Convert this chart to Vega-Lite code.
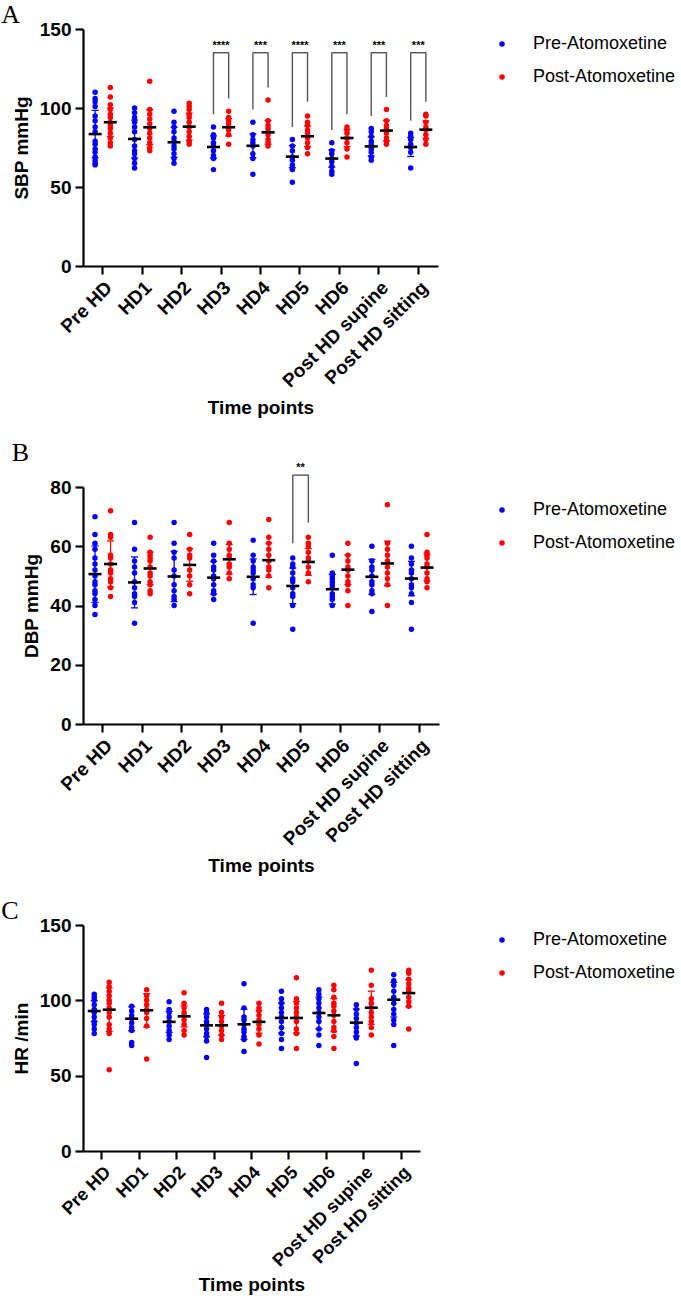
{
  "$schema": "https://vega.github.io/schema/vega-lite/v6.json",
  "background": "white",
  "padding": {"left": 1, "top": 2, "right": 0, "bottom": 0},
  "config": {
    "view": {"stroke": null},
    "font": "Liberation Sans",
    "axis": {
      "grid": false,
      "domainColor": "black", "domainWidth": 2.2,
      "tickColor": "black", "tickWidth": 2.2, "tickSize": 8,
      "labelColor": "black", "labelFont": "Liberation Sans", "labelFontWeight": "bold", "labelFontSize": 19,
      "titleColor": "black", "titleFont": "Liberation Sans", "titleFontWeight": "bold", "titleFontSize": 19
    },
    "axisX": {"labelAngle": -45, "labelFontSize": 19, "labelPadding": 4, "titlePadding": 8},
    "axisY": {"labelPadding": 4, "titlePadding": 8},
    "tick": {"opacity": 1},
    "title": {"font": "Liberation Serif", "fontWeight": "normal", "fontSize": 26, "anchor": "start", "frame": "bounds", "color": "black"},
    "legend": {
      "symbolType": "circle", "symbolSize": 30, "symbolStrokeWidth": 0,
      "labelFont": "Liberation Sans", "labelFontSize": 18, "labelColor": "black",
      "labelOffset": 22, "rowPadding": 15, "padding": 6
    }
  },
  "datasets": {
    "sbp": [
      {"time": "Pre HD", "group": "Pre-Atomoxetine", "value": 110}, {"time": "Pre HD", "group": "Pre-Atomoxetine", "value": 106}, {"time": "Pre HD", "group": "Pre-Atomoxetine", "value": 104}, {"time": "Pre HD", "group": "Pre-Atomoxetine", "value": 101}, {"time": "Pre HD", "group": "Pre-Atomoxetine", "value": 95}, {"time": "Pre HD", "group": "Pre-Atomoxetine", "value": 92}, {"time": "Pre HD", "group": "Pre-Atomoxetine", "value": 88}, {"time": "Pre HD", "group": "Pre-Atomoxetine", "value": 85}, {"time": "Pre HD", "group": "Pre-Atomoxetine", "value": 79}, {"time": "Pre HD", "group": "Pre-Atomoxetine", "value": 77}, {"time": "Pre HD", "group": "Pre-Atomoxetine", "value": 74}, {"time": "Pre HD", "group": "Pre-Atomoxetine", "value": 72}, {"time": "Pre HD", "group": "Pre-Atomoxetine", "value": 69}, {"time": "Pre HD", "group": "Pre-Atomoxetine", "value": 67}, {"time": "Pre HD", "group": "Pre-Atomoxetine", "value": 65}, {"time": "Pre HD", "group": "Pre-Atomoxetine", "value": 64},
      {"time": "Pre HD", "group": "Post-Atomoxetine", "value": 113}, {"time": "Pre HD", "group": "Post-Atomoxetine", "value": 107}, {"time": "Pre HD", "group": "Post-Atomoxetine", "value": 102}, {"time": "Pre HD", "group": "Post-Atomoxetine", "value": 99}, {"time": "Pre HD", "group": "Post-Atomoxetine", "value": 96}, {"time": "Pre HD", "group": "Post-Atomoxetine", "value": 94}, {"time": "Pre HD", "group": "Post-Atomoxetine", "value": 91}, {"time": "Pre HD", "group": "Post-Atomoxetine", "value": 89}, {"time": "Pre HD", "group": "Post-Atomoxetine", "value": 87}, {"time": "Pre HD", "group": "Post-Atomoxetine", "value": 84}, {"time": "Pre HD", "group": "Post-Atomoxetine", "value": 81}, {"time": "Pre HD", "group": "Post-Atomoxetine", "value": 78}, {"time": "Pre HD", "group": "Post-Atomoxetine", "value": 76},
      {"time": "HD1", "group": "Pre-Atomoxetine", "value": 100}, {"time": "HD1", "group": "Pre-Atomoxetine", "value": 97}, {"time": "HD1", "group": "Pre-Atomoxetine", "value": 94}, {"time": "HD1", "group": "Pre-Atomoxetine", "value": 91}, {"time": "HD1", "group": "Pre-Atomoxetine", "value": 88}, {"time": "HD1", "group": "Pre-Atomoxetine", "value": 85}, {"time": "HD1", "group": "Pre-Atomoxetine", "value": 80}, {"time": "HD1", "group": "Pre-Atomoxetine", "value": 76}, {"time": "HD1", "group": "Pre-Atomoxetine", "value": 73}, {"time": "HD1", "group": "Pre-Atomoxetine", "value": 71}, {"time": "HD1", "group": "Pre-Atomoxetine", "value": 68}, {"time": "HD1", "group": "Pre-Atomoxetine", "value": 65}, {"time": "HD1", "group": "Pre-Atomoxetine", "value": 62},
      {"time": "HD1", "group": "Post-Atomoxetine", "value": 117}, {"time": "HD1", "group": "Post-Atomoxetine", "value": 99}, {"time": "HD1", "group": "Post-Atomoxetine", "value": 96}, {"time": "HD1", "group": "Post-Atomoxetine", "value": 93}, {"time": "HD1", "group": "Post-Atomoxetine", "value": 90}, {"time": "HD1", "group": "Post-Atomoxetine", "value": 87}, {"time": "HD1", "group": "Post-Atomoxetine", "value": 84}, {"time": "HD1", "group": "Post-Atomoxetine", "value": 81}, {"time": "HD1", "group": "Post-Atomoxetine", "value": 78}, {"time": "HD1", "group": "Post-Atomoxetine", "value": 75}, {"time": "HD1", "group": "Post-Atomoxetine", "value": 73},
      {"time": "HD2", "group": "Pre-Atomoxetine", "value": 98}, {"time": "HD2", "group": "Pre-Atomoxetine", "value": 91}, {"time": "HD2", "group": "Pre-Atomoxetine", "value": 88}, {"time": "HD2", "group": "Pre-Atomoxetine", "value": 85}, {"time": "HD2", "group": "Pre-Atomoxetine", "value": 81}, {"time": "HD2", "group": "Pre-Atomoxetine", "value": 79}, {"time": "HD2", "group": "Pre-Atomoxetine", "value": 76}, {"time": "HD2", "group": "Pre-Atomoxetine", "value": 74}, {"time": "HD2", "group": "Pre-Atomoxetine", "value": 71}, {"time": "HD2", "group": "Pre-Atomoxetine", "value": 68}, {"time": "HD2", "group": "Pre-Atomoxetine", "value": 65},
      {"time": "HD2", "group": "Post-Atomoxetine", "value": 103}, {"time": "HD2", "group": "Post-Atomoxetine", "value": 101}, {"time": "HD2", "group": "Post-Atomoxetine", "value": 99}, {"time": "HD2", "group": "Post-Atomoxetine", "value": 96}, {"time": "HD2", "group": "Post-Atomoxetine", "value": 94}, {"time": "HD2", "group": "Post-Atomoxetine", "value": 91}, {"time": "HD2", "group": "Post-Atomoxetine", "value": 88}, {"time": "HD2", "group": "Post-Atomoxetine", "value": 85}, {"time": "HD2", "group": "Post-Atomoxetine", "value": 82}, {"time": "HD2", "group": "Post-Atomoxetine", "value": 79}, {"time": "HD2", "group": "Post-Atomoxetine", "value": 77},
      {"time": "HD3", "group": "Pre-Atomoxetine", "value": 88}, {"time": "HD3", "group": "Pre-Atomoxetine", "value": 83}, {"time": "HD3", "group": "Pre-Atomoxetine", "value": 81}, {"time": "HD3", "group": "Pre-Atomoxetine", "value": 78}, {"time": "HD3", "group": "Pre-Atomoxetine", "value": 76}, {"time": "HD3", "group": "Pre-Atomoxetine", "value": 73}, {"time": "HD3", "group": "Pre-Atomoxetine", "value": 70}, {"time": "HD3", "group": "Pre-Atomoxetine", "value": 68}, {"time": "HD3", "group": "Pre-Atomoxetine", "value": 61},
      {"time": "HD3", "group": "Post-Atomoxetine", "value": 98}, {"time": "HD3", "group": "Post-Atomoxetine", "value": 94}, {"time": "HD3", "group": "Post-Atomoxetine", "value": 92}, {"time": "HD3", "group": "Post-Atomoxetine", "value": 90}, {"time": "HD3", "group": "Post-Atomoxetine", "value": 88}, {"time": "HD3", "group": "Post-Atomoxetine", "value": 86}, {"time": "HD3", "group": "Post-Atomoxetine", "value": 83}, {"time": "HD3", "group": "Post-Atomoxetine", "value": 77},
      {"time": "HD4", "group": "Pre-Atomoxetine", "value": 91}, {"time": "HD4", "group": "Pre-Atomoxetine", "value": 83}, {"time": "HD4", "group": "Pre-Atomoxetine", "value": 80}, {"time": "HD4", "group": "Pre-Atomoxetine", "value": 78}, {"time": "HD4", "group": "Pre-Atomoxetine", "value": 76}, {"time": "HD4", "group": "Pre-Atomoxetine", "value": 71}, {"time": "HD4", "group": "Pre-Atomoxetine", "value": 68}, {"time": "HD4", "group": "Pre-Atomoxetine", "value": 58},
      {"time": "HD4", "group": "Post-Atomoxetine", "value": 105}, {"time": "HD4", "group": "Post-Atomoxetine", "value": 92}, {"time": "HD4", "group": "Post-Atomoxetine", "value": 89}, {"time": "HD4", "group": "Post-Atomoxetine", "value": 87}, {"time": "HD4", "group": "Post-Atomoxetine", "value": 85}, {"time": "HD4", "group": "Post-Atomoxetine", "value": 83}, {"time": "HD4", "group": "Post-Atomoxetine", "value": 80}, {"time": "HD4", "group": "Post-Atomoxetine", "value": 78}, {"time": "HD4", "group": "Post-Atomoxetine", "value": 76},
      {"time": "HD5", "group": "Pre-Atomoxetine", "value": 80}, {"time": "HD5", "group": "Pre-Atomoxetine", "value": 76}, {"time": "HD5", "group": "Pre-Atomoxetine", "value": 73}, {"time": "HD5", "group": "Pre-Atomoxetine", "value": 69}, {"time": "HD5", "group": "Pre-Atomoxetine", "value": 67}, {"time": "HD5", "group": "Pre-Atomoxetine", "value": 64}, {"time": "HD5", "group": "Pre-Atomoxetine", "value": 61}, {"time": "HD5", "group": "Pre-Atomoxetine", "value": 53},
      {"time": "HD5", "group": "Post-Atomoxetine", "value": 95}, {"time": "HD5", "group": "Post-Atomoxetine", "value": 91}, {"time": "HD5", "group": "Post-Atomoxetine", "value": 89}, {"time": "HD5", "group": "Post-Atomoxetine", "value": 86}, {"time": "HD5", "group": "Post-Atomoxetine", "value": 84}, {"time": "HD5", "group": "Post-Atomoxetine", "value": 81}, {"time": "HD5", "group": "Post-Atomoxetine", "value": 78}, {"time": "HD5", "group": "Post-Atomoxetine", "value": 75}, {"time": "HD5", "group": "Post-Atomoxetine", "value": 71},
      {"time": "HD6", "group": "Pre-Atomoxetine", "value": 78}, {"time": "HD6", "group": "Pre-Atomoxetine", "value": 73}, {"time": "HD6", "group": "Pre-Atomoxetine", "value": 71}, {"time": "HD6", "group": "Pre-Atomoxetine", "value": 68}, {"time": "HD6", "group": "Pre-Atomoxetine", "value": 66}, {"time": "HD6", "group": "Pre-Atomoxetine", "value": 63}, {"time": "HD6", "group": "Pre-Atomoxetine", "value": 60}, {"time": "HD6", "group": "Pre-Atomoxetine", "value": 58},
      {"time": "HD6", "group": "Post-Atomoxetine", "value": 88}, {"time": "HD6", "group": "Post-Atomoxetine", "value": 86}, {"time": "HD6", "group": "Post-Atomoxetine", "value": 84}, {"time": "HD6", "group": "Post-Atomoxetine", "value": 81}, {"time": "HD6", "group": "Post-Atomoxetine", "value": 78}, {"time": "HD6", "group": "Post-Atomoxetine", "value": 74}, {"time": "HD6", "group": "Post-Atomoxetine", "value": 69},
      {"time": "Post HD supine", "group": "Pre-Atomoxetine", "value": 87}, {"time": "Post HD supine", "group": "Pre-Atomoxetine", "value": 85}, {"time": "Post HD supine", "group": "Pre-Atomoxetine", "value": 82}, {"time": "Post HD supine", "group": "Pre-Atomoxetine", "value": 79}, {"time": "Post HD supine", "group": "Pre-Atomoxetine", "value": 77}, {"time": "Post HD supine", "group": "Pre-Atomoxetine", "value": 74}, {"time": "Post HD supine", "group": "Pre-Atomoxetine", "value": 72}, {"time": "Post HD supine", "group": "Pre-Atomoxetine", "value": 69}, {"time": "Post HD supine", "group": "Pre-Atomoxetine", "value": 67},
      {"time": "Post HD supine", "group": "Post-Atomoxetine", "value": 99}, {"time": "Post HD supine", "group": "Post-Atomoxetine", "value": 92}, {"time": "Post HD supine", "group": "Post-Atomoxetine", "value": 89}, {"time": "Post HD supine", "group": "Post-Atomoxetine", "value": 87}, {"time": "Post HD supine", "group": "Post-Atomoxetine", "value": 84}, {"time": "Post HD supine", "group": "Post-Atomoxetine", "value": 81}, {"time": "Post HD supine", "group": "Post-Atomoxetine", "value": 79}, {"time": "Post HD supine", "group": "Post-Atomoxetine", "value": 77},
      {"time": "Post HD sitting", "group": "Pre-Atomoxetine", "value": 84}, {"time": "Post HD sitting", "group": "Pre-Atomoxetine", "value": 82}, {"time": "Post HD sitting", "group": "Pre-Atomoxetine", "value": 80}, {"time": "Post HD sitting", "group": "Pre-Atomoxetine", "value": 77}, {"time": "Post HD sitting", "group": "Pre-Atomoxetine", "value": 75}, {"time": "Post HD sitting", "group": "Pre-Atomoxetine", "value": 72}, {"time": "Post HD sitting", "group": "Pre-Atomoxetine", "value": 62},
      {"time": "Post HD sitting", "group": "Post-Atomoxetine", "value": 96}, {"time": "Post HD sitting", "group": "Post-Atomoxetine", "value": 95}, {"time": "Post HD sitting", "group": "Post-Atomoxetine", "value": 91}, {"time": "Post HD sitting", "group": "Post-Atomoxetine", "value": 88}, {"time": "Post HD sitting", "group": "Post-Atomoxetine", "value": 86}, {"time": "Post HD sitting", "group": "Post-Atomoxetine", "value": 83}, {"time": "Post HD sitting", "group": "Post-Atomoxetine", "value": 80}, {"time": "Post HD sitting", "group": "Post-Atomoxetine", "value": 77}
    ],
    "sbp_stats": [
      {"time": "Pre HD", "group": "Pre-Atomoxetine", "mean": 83.5, "lo": 68.5, "hi": 98.5}, {"time": "Pre HD", "group": "Post-Atomoxetine", "mean": 91, "lo": 82, "hi": 100},
      {"time": "HD1", "group": "Pre-Atomoxetine", "mean": 80.4, "lo": 68.4, "hi": 92.4}, {"time": "HD1", "group": "Post-Atomoxetine", "mean": 87.8, "lo": 76.8, "hi": 98.8},
      {"time": "HD2", "group": "Pre-Atomoxetine", "mean": 78.3, "lo": 68.8, "hi": 87.8}, {"time": "HD2", "group": "Post-Atomoxetine", "mean": 88.2, "lo": 79.7, "hi": 96.7},
      {"time": "HD3", "group": "Pre-Atomoxetine", "mean": 75.3, "lo": 68.3, "hi": 82.3}, {"time": "HD3", "group": "Post-Atomoxetine", "mean": 87.8, "lo": 82.3, "hi": 93.3},
      {"time": "HD4", "group": "Pre-Atomoxetine", "mean": 76.1, "lo": 68.6, "hi": 83.6}, {"time": "HD4", "group": "Post-Atomoxetine", "mean": 84.6, "lo": 77.1, "hi": 92.1},
      {"time": "HD5", "group": "Pre-Atomoxetine", "mean": 69.2, "lo": 62.2, "hi": 76.2}, {"time": "HD5", "group": "Post-Atomoxetine", "mean": 82.1, "lo": 75.6, "hi": 88.6},
      {"time": "HD6", "group": "Pre-Atomoxetine", "mean": 68, "lo": 62.5, "hi": 73.5}, {"time": "HD6", "group": "Post-Atomoxetine", "mean": 81, "lo": 75.5, "hi": 86.5},
      {"time": "Post HD supine", "group": "Pre-Atomoxetine", "mean": 75.7, "lo": 69.7, "hi": 81.7}, {"time": "Post HD supine", "group": "Post-Atomoxetine", "mean": 85.7, "lo": 79.2, "hi": 92.2},
      {"time": "Post HD sitting", "group": "Pre-Atomoxetine", "mean": 75.3, "lo": 69.3, "hi": 81.3}, {"time": "Post HD sitting", "group": "Post-Atomoxetine", "mean": 86.3, "lo": 80.8, "hi": 91.8}
    ],
    "sbp_legs": [
      {"time": "HD3", "group": "Pre-Atomoxetine", "bottom": 96, "top": 135}, {"time": "HD3", "group": "Post-Atomoxetine", "bottom": 106, "top": 135},
      {"time": "HD4", "group": "Pre-Atomoxetine", "bottom": 99, "top": 135}, {"time": "HD4", "group": "Post-Atomoxetine", "bottom": 113, "top": 135},
      {"time": "HD5", "group": "Pre-Atomoxetine", "bottom": 88, "top": 135}, {"time": "HD5", "group": "Post-Atomoxetine", "bottom": 104, "top": 135},
      {"time": "HD6", "group": "Pre-Atomoxetine", "bottom": 86, "top": 135}, {"time": "HD6", "group": "Post-Atomoxetine", "bottom": 96, "top": 135},
      {"time": "Post HD supine", "group": "Pre-Atomoxetine", "bottom": 95, "top": 135}, {"time": "Post HD supine", "group": "Post-Atomoxetine", "bottom": 107, "top": 135},
      {"time": "Post HD sitting", "group": "Pre-Atomoxetine", "bottom": 92, "top": 135}, {"time": "Post HD sitting", "group": "Post-Atomoxetine", "bottom": 104, "top": 135}
    ],
    "sbp_bars": [
      {"time": "HD3", "top": 135, "stars": "****", "label_y": 137.5},
      {"time": "HD4", "top": 135, "stars": "***", "label_y": 137.5},
      {"time": "HD5", "top": 135, "stars": "****", "label_y": 137.5},
      {"time": "HD6", "top": 135, "stars": "***", "label_y": 137.5},
      {"time": "Post HD supine", "top": 135, "stars": "***", "label_y": 137.5},
      {"time": "Post HD sitting", "top": 135, "stars": "***", "label_y": 137.5}
    ],
    "dbp": [
      {"time": "Pre HD", "group": "Pre-Atomoxetine", "value": 70}, {"time": "Pre HD", "group": "Pre-Atomoxetine", "value": 64}, {"time": "Pre HD", "group": "Pre-Atomoxetine", "value": 61}, {"time": "Pre HD", "group": "Pre-Atomoxetine", "value": 59}, {"time": "Pre HD", "group": "Pre-Atomoxetine", "value": 56}, {"time": "Pre HD", "group": "Pre-Atomoxetine", "value": 54}, {"time": "Pre HD", "group": "Pre-Atomoxetine", "value": 52}, {"time": "Pre HD", "group": "Pre-Atomoxetine", "value": 50}, {"time": "Pre HD", "group": "Pre-Atomoxetine", "value": 48}, {"time": "Pre HD", "group": "Pre-Atomoxetine", "value": 47}, {"time": "Pre HD", "group": "Pre-Atomoxetine", "value": 45}, {"time": "Pre HD", "group": "Pre-Atomoxetine", "value": 44}, {"time": "Pre HD", "group": "Pre-Atomoxetine", "value": 42}, {"time": "Pre HD", "group": "Pre-Atomoxetine", "value": 40}, {"time": "Pre HD", "group": "Pre-Atomoxetine", "value": 37},
      {"time": "Pre HD", "group": "Post-Atomoxetine", "value": 72}, {"time": "Pre HD", "group": "Post-Atomoxetine", "value": 64}, {"time": "Pre HD", "group": "Post-Atomoxetine", "value": 63}, {"time": "Pre HD", "group": "Post-Atomoxetine", "value": 57}, {"time": "Pre HD", "group": "Post-Atomoxetine", "value": 56}, {"time": "Pre HD", "group": "Post-Atomoxetine", "value": 54}, {"time": "Pre HD", "group": "Post-Atomoxetine", "value": 52}, {"time": "Pre HD", "group": "Post-Atomoxetine", "value": 51}, {"time": "Pre HD", "group": "Post-Atomoxetine", "value": 49}, {"time": "Pre HD", "group": "Post-Atomoxetine", "value": 48}, {"time": "Pre HD", "group": "Post-Atomoxetine", "value": 46}, {"time": "Pre HD", "group": "Post-Atomoxetine", "value": 43},
      {"time": "HD1", "group": "Pre-Atomoxetine", "value": 68}, {"time": "HD1", "group": "Pre-Atomoxetine", "value": 59}, {"time": "HD1", "group": "Pre-Atomoxetine", "value": 55}, {"time": "HD1", "group": "Pre-Atomoxetine", "value": 53}, {"time": "HD1", "group": "Pre-Atomoxetine", "value": 51}, {"time": "HD1", "group": "Pre-Atomoxetine", "value": 48}, {"time": "HD1", "group": "Pre-Atomoxetine", "value": 46}, {"time": "HD1", "group": "Pre-Atomoxetine", "value": 44}, {"time": "HD1", "group": "Pre-Atomoxetine", "value": 43}, {"time": "HD1", "group": "Pre-Atomoxetine", "value": 41}, {"time": "HD1", "group": "Pre-Atomoxetine", "value": 34},
      {"time": "HD1", "group": "Post-Atomoxetine", "value": 63}, {"time": "HD1", "group": "Post-Atomoxetine", "value": 58}, {"time": "HD1", "group": "Post-Atomoxetine", "value": 57}, {"time": "HD1", "group": "Post-Atomoxetine", "value": 56}, {"time": "HD1", "group": "Post-Atomoxetine", "value": 55}, {"time": "HD1", "group": "Post-Atomoxetine", "value": 53}, {"time": "HD1", "group": "Post-Atomoxetine", "value": 51}, {"time": "HD1", "group": "Post-Atomoxetine", "value": 50}, {"time": "HD1", "group": "Post-Atomoxetine", "value": 48}, {"time": "HD1", "group": "Post-Atomoxetine", "value": 47}, {"time": "HD1", "group": "Post-Atomoxetine", "value": 45}, {"time": "HD1", "group": "Post-Atomoxetine", "value": 44},
      {"time": "HD2", "group": "Pre-Atomoxetine", "value": 68}, {"time": "HD2", "group": "Pre-Atomoxetine", "value": 61}, {"time": "HD2", "group": "Pre-Atomoxetine", "value": 58}, {"time": "HD2", "group": "Pre-Atomoxetine", "value": 56}, {"time": "HD2", "group": "Pre-Atomoxetine", "value": 52}, {"time": "HD2", "group": "Pre-Atomoxetine", "value": 50}, {"time": "HD2", "group": "Pre-Atomoxetine", "value": 47}, {"time": "HD2", "group": "Pre-Atomoxetine", "value": 45}, {"time": "HD2", "group": "Pre-Atomoxetine", "value": 43}, {"time": "HD2", "group": "Pre-Atomoxetine", "value": 42}, {"time": "HD2", "group": "Pre-Atomoxetine", "value": 40},
      {"time": "HD2", "group": "Post-Atomoxetine", "value": 64}, {"time": "HD2", "group": "Post-Atomoxetine", "value": 59}, {"time": "HD2", "group": "Post-Atomoxetine", "value": 57}, {"time": "HD2", "group": "Post-Atomoxetine", "value": 56}, {"time": "HD2", "group": "Post-Atomoxetine", "value": 52}, {"time": "HD2", "group": "Post-Atomoxetine", "value": 50}, {"time": "HD2", "group": "Post-Atomoxetine", "value": 47}, {"time": "HD2", "group": "Post-Atomoxetine", "value": 44},
      {"time": "HD3", "group": "Pre-Atomoxetine", "value": 61}, {"time": "HD3", "group": "Pre-Atomoxetine", "value": 57}, {"time": "HD3", "group": "Pre-Atomoxetine", "value": 55}, {"time": "HD3", "group": "Pre-Atomoxetine", "value": 53}, {"time": "HD3", "group": "Pre-Atomoxetine", "value": 52}, {"time": "HD3", "group": "Pre-Atomoxetine", "value": 50}, {"time": "HD3", "group": "Pre-Atomoxetine", "value": 49}, {"time": "HD3", "group": "Pre-Atomoxetine", "value": 47}, {"time": "HD3", "group": "Pre-Atomoxetine", "value": 45}, {"time": "HD3", "group": "Pre-Atomoxetine", "value": 44}, {"time": "HD3", "group": "Pre-Atomoxetine", "value": 42},
      {"time": "HD3", "group": "Post-Atomoxetine", "value": 68}, {"time": "HD3", "group": "Post-Atomoxetine", "value": 61}, {"time": "HD3", "group": "Post-Atomoxetine", "value": 59}, {"time": "HD3", "group": "Post-Atomoxetine", "value": 57}, {"time": "HD3", "group": "Post-Atomoxetine", "value": 56}, {"time": "HD3", "group": "Post-Atomoxetine", "value": 54}, {"time": "HD3", "group": "Post-Atomoxetine", "value": 53}, {"time": "HD3", "group": "Post-Atomoxetine", "value": 51}, {"time": "HD3", "group": "Post-Atomoxetine", "value": 49},
      {"time": "HD4", "group": "Pre-Atomoxetine", "value": 62}, {"time": "HD4", "group": "Pre-Atomoxetine", "value": 57}, {"time": "HD4", "group": "Pre-Atomoxetine", "value": 55}, {"time": "HD4", "group": "Pre-Atomoxetine", "value": 53}, {"time": "HD4", "group": "Pre-Atomoxetine", "value": 52}, {"time": "HD4", "group": "Pre-Atomoxetine", "value": 51}, {"time": "HD4", "group": "Pre-Atomoxetine", "value": 49}, {"time": "HD4", "group": "Pre-Atomoxetine", "value": 47}, {"time": "HD4", "group": "Pre-Atomoxetine", "value": 46}, {"time": "HD4", "group": "Pre-Atomoxetine", "value": 34},
      {"time": "HD4", "group": "Post-Atomoxetine", "value": 69}, {"time": "HD4", "group": "Post-Atomoxetine", "value": 63}, {"time": "HD4", "group": "Post-Atomoxetine", "value": 61}, {"time": "HD4", "group": "Post-Atomoxetine", "value": 59}, {"time": "HD4", "group": "Post-Atomoxetine", "value": 57}, {"time": "HD4", "group": "Post-Atomoxetine", "value": 55}, {"time": "HD4", "group": "Post-Atomoxetine", "value": 53}, {"time": "HD4", "group": "Post-Atomoxetine", "value": 52}, {"time": "HD4", "group": "Post-Atomoxetine", "value": 50}, {"time": "HD4", "group": "Post-Atomoxetine", "value": 46},
      {"time": "HD5", "group": "Pre-Atomoxetine", "value": 56}, {"time": "HD5", "group": "Pre-Atomoxetine", "value": 54}, {"time": "HD5", "group": "Pre-Atomoxetine", "value": 53}, {"time": "HD5", "group": "Pre-Atomoxetine", "value": 51}, {"time": "HD5", "group": "Pre-Atomoxetine", "value": 49}, {"time": "HD5", "group": "Pre-Atomoxetine", "value": 48}, {"time": "HD5", "group": "Pre-Atomoxetine", "value": 46}, {"time": "HD5", "group": "Pre-Atomoxetine", "value": 44}, {"time": "HD5", "group": "Pre-Atomoxetine", "value": 43}, {"time": "HD5", "group": "Pre-Atomoxetine", "value": 40}, {"time": "HD5", "group": "Pre-Atomoxetine", "value": 32},
      {"time": "HD5", "group": "Post-Atomoxetine", "value": 63}, {"time": "HD5", "group": "Post-Atomoxetine", "value": 61}, {"time": "HD5", "group": "Post-Atomoxetine", "value": 60}, {"time": "HD5", "group": "Post-Atomoxetine", "value": 58}, {"time": "HD5", "group": "Post-Atomoxetine", "value": 56}, {"time": "HD5", "group": "Post-Atomoxetine", "value": 55}, {"time": "HD5", "group": "Post-Atomoxetine", "value": 53}, {"time": "HD5", "group": "Post-Atomoxetine", "value": 51}, {"time": "HD5", "group": "Post-Atomoxetine", "value": 48},
      {"time": "HD6", "group": "Pre-Atomoxetine", "value": 57}, {"time": "HD6", "group": "Pre-Atomoxetine", "value": 51}, {"time": "HD6", "group": "Pre-Atomoxetine", "value": 50}, {"time": "HD6", "group": "Pre-Atomoxetine", "value": 49}, {"time": "HD6", "group": "Pre-Atomoxetine", "value": 48}, {"time": "HD6", "group": "Pre-Atomoxetine", "value": 47}, {"time": "HD6", "group": "Pre-Atomoxetine", "value": 46}, {"time": "HD6", "group": "Pre-Atomoxetine", "value": 44}, {"time": "HD6", "group": "Pre-Atomoxetine", "value": 43}, {"time": "HD6", "group": "Pre-Atomoxetine", "value": 42}, {"time": "HD6", "group": "Pre-Atomoxetine", "value": 40},
      {"time": "HD6", "group": "Post-Atomoxetine", "value": 61}, {"time": "HD6", "group": "Post-Atomoxetine", "value": 57}, {"time": "HD6", "group": "Post-Atomoxetine", "value": 55}, {"time": "HD6", "group": "Post-Atomoxetine", "value": 53}, {"time": "HD6", "group": "Post-Atomoxetine", "value": 52}, {"time": "HD6", "group": "Post-Atomoxetine", "value": 50}, {"time": "HD6", "group": "Post-Atomoxetine", "value": 48}, {"time": "HD6", "group": "Post-Atomoxetine", "value": 47}, {"time": "HD6", "group": "Post-Atomoxetine", "value": 45}, {"time": "HD6", "group": "Post-Atomoxetine", "value": 40},
      {"time": "Post HD supine", "group": "Pre-Atomoxetine", "value": 60}, {"time": "Post HD supine", "group": "Pre-Atomoxetine", "value": 55}, {"time": "Post HD supine", "group": "Pre-Atomoxetine", "value": 53}, {"time": "Post HD supine", "group": "Pre-Atomoxetine", "value": 52}, {"time": "Post HD supine", "group": "Pre-Atomoxetine", "value": 50}, {"time": "Post HD supine", "group": "Pre-Atomoxetine", "value": 48}, {"time": "Post HD supine", "group": "Pre-Atomoxetine", "value": 47}, {"time": "Post HD supine", "group": "Pre-Atomoxetine", "value": 45}, {"time": "Post HD supine", "group": "Pre-Atomoxetine", "value": 44}, {"time": "Post HD supine", "group": "Pre-Atomoxetine", "value": 38},
      {"time": "Post HD supine", "group": "Post-Atomoxetine", "value": 74}, {"time": "Post HD supine", "group": "Post-Atomoxetine", "value": 61}, {"time": "Post HD supine", "group": "Post-Atomoxetine", "value": 59}, {"time": "Post HD supine", "group": "Post-Atomoxetine", "value": 57}, {"time": "Post HD supine", "group": "Post-Atomoxetine", "value": 55}, {"time": "Post HD supine", "group": "Post-Atomoxetine", "value": 53}, {"time": "Post HD supine", "group": "Post-Atomoxetine", "value": 51}, {"time": "Post HD supine", "group": "Post-Atomoxetine", "value": 49}, {"time": "Post HD supine", "group": "Post-Atomoxetine", "value": 47}, {"time": "Post HD supine", "group": "Post-Atomoxetine", "value": 40},
      {"time": "Post HD sitting", "group": "Pre-Atomoxetine", "value": 60}, {"time": "Post HD sitting", "group": "Pre-Atomoxetine", "value": 56}, {"time": "Post HD sitting", "group": "Pre-Atomoxetine", "value": 54}, {"time": "Post HD sitting", "group": "Pre-Atomoxetine", "value": 52}, {"time": "Post HD sitting", "group": "Pre-Atomoxetine", "value": 51}, {"time": "Post HD sitting", "group": "Pre-Atomoxetine", "value": 49}, {"time": "Post HD sitting", "group": "Pre-Atomoxetine", "value": 47}, {"time": "Post HD sitting", "group": "Pre-Atomoxetine", "value": 46}, {"time": "Post HD sitting", "group": "Pre-Atomoxetine", "value": 44}, {"time": "Post HD sitting", "group": "Pre-Atomoxetine", "value": 41}, {"time": "Post HD sitting", "group": "Pre-Atomoxetine", "value": 32},
      {"time": "Post HD sitting", "group": "Post-Atomoxetine", "value": 64}, {"time": "Post HD sitting", "group": "Post-Atomoxetine", "value": 58}, {"time": "Post HD sitting", "group": "Post-Atomoxetine", "value": 57}, {"time": "Post HD sitting", "group": "Post-Atomoxetine", "value": 56}, {"time": "Post HD sitting", "group": "Post-Atomoxetine", "value": 54}, {"time": "Post HD sitting", "group": "Post-Atomoxetine", "value": 53}, {"time": "Post HD sitting", "group": "Post-Atomoxetine", "value": 51}, {"time": "Post HD sitting", "group": "Post-Atomoxetine", "value": 49}, {"time": "Post HD sitting", "group": "Post-Atomoxetine", "value": 48}, {"time": "Post HD sitting", "group": "Post-Atomoxetine", "value": 46}
    ],
    "dbp_stats": [
      {"time": "Pre HD", "group": "Pre-Atomoxetine", "mean": 50.6, "lo": 41, "hi": 60.1}, {"time": "Pre HD", "group": "Post-Atomoxetine", "mean": 54, "lo": 46.2, "hi": 61.8},
      {"time": "HD1", "group": "Pre-Atomoxetine", "mean": 47.8, "lo": 39.2, "hi": 56.4}, {"time": "HD1", "group": "Post-Atomoxetine", "mean": 52.5, "lo": 47, "hi": 58},
      {"time": "HD2", "group": "Pre-Atomoxetine", "mean": 49.8, "lo": 41.3, "hi": 58.3}, {"time": "HD2", "group": "Post-Atomoxetine", "mean": 53.7, "lo": 48.2, "hi": 59.2},
      {"time": "HD3", "group": "Pre-Atomoxetine", "mean": 49.4, "lo": 43.9, "hi": 54.9}, {"time": "HD3", "group": "Post-Atomoxetine", "mean": 55.6, "lo": 50.6, "hi": 60.6},
      {"time": "HD4", "group": "Pre-Atomoxetine", "mean": 49.7, "lo": 43.7, "hi": 55.7}, {"time": "HD4", "group": "Post-Atomoxetine", "mean": 55.3, "lo": 49.5, "hi": 61.1},
      {"time": "HD5", "group": "Pre-Atomoxetine", "mean": 46.6, "lo": 40.6, "hi": 52.6}, {"time": "HD5", "group": "Post-Atomoxetine", "mean": 54.7, "lo": 50.2, "hi": 59.2},
      {"time": "HD6", "group": "Pre-Atomoxetine", "mean": 45.5, "lo": 40.5, "hi": 50.5}, {"time": "HD6", "group": "Post-Atomoxetine", "mean": 52.1, "lo": 47.1, "hi": 57.1},
      {"time": "Post HD supine", "group": "Pre-Atomoxetine", "mean": 49.7, "lo": 43.8, "hi": 55.6}, {"time": "Post HD supine", "group": "Post-Atomoxetine", "mean": 54.2, "lo": 46.7, "hi": 61.7},
      {"time": "Post HD sitting", "group": "Pre-Atomoxetine", "mean": 49.1, "lo": 43.3, "hi": 54.9}, {"time": "Post HD sitting", "group": "Post-Atomoxetine", "mean": 52.8, "lo": 48.3, "hi": 57.3}
    ],
    "dbp_legs": [
      {"time": "HD5", "group": "Pre-Atomoxetine", "bottom": 61, "top": 84}, {"time": "HD5", "group": "Post-Atomoxetine", "bottom": 68, "top": 84}
    ],
    "dbp_bars": [
      {"time": "HD5", "top": 84, "stars": "**", "label_y": 85.3}
    ],
    "hr": [
      {"time": "Pre HD", "group": "Pre-Atomoxetine", "value": 104}, {"time": "Pre HD", "group": "Pre-Atomoxetine", "value": 102}, {"time": "Pre HD", "group": "Pre-Atomoxetine", "value": 100}, {"time": "Pre HD", "group": "Pre-Atomoxetine", "value": 97}, {"time": "Pre HD", "group": "Pre-Atomoxetine", "value": 94}, {"time": "Pre HD", "group": "Pre-Atomoxetine", "value": 92}, {"time": "Pre HD", "group": "Pre-Atomoxetine", "value": 89}, {"time": "Pre HD", "group": "Pre-Atomoxetine", "value": 86}, {"time": "Pre HD", "group": "Pre-Atomoxetine", "value": 84}, {"time": "Pre HD", "group": "Pre-Atomoxetine", "value": 81}, {"time": "Pre HD", "group": "Pre-Atomoxetine", "value": 78},
      {"time": "Pre HD", "group": "Post-Atomoxetine", "value": 112}, {"time": "Pre HD", "group": "Post-Atomoxetine", "value": 109}, {"time": "Pre HD", "group": "Post-Atomoxetine", "value": 106}, {"time": "Pre HD", "group": "Post-Atomoxetine", "value": 103}, {"time": "Pre HD", "group": "Post-Atomoxetine", "value": 100}, {"time": "Pre HD", "group": "Post-Atomoxetine", "value": 98}, {"time": "Pre HD", "group": "Post-Atomoxetine", "value": 95}, {"time": "Pre HD", "group": "Post-Atomoxetine", "value": 92}, {"time": "Pre HD", "group": "Post-Atomoxetine", "value": 89}, {"time": "Pre HD", "group": "Post-Atomoxetine", "value": 84}, {"time": "Pre HD", "group": "Post-Atomoxetine", "value": 81}, {"time": "Pre HD", "group": "Post-Atomoxetine", "value": 78}, {"time": "Pre HD", "group": "Post-Atomoxetine", "value": 54},
      {"time": "HD1", "group": "Pre-Atomoxetine", "value": 96}, {"time": "HD1", "group": "Pre-Atomoxetine", "value": 93}, {"time": "HD1", "group": "Pre-Atomoxetine", "value": 90}, {"time": "HD1", "group": "Pre-Atomoxetine", "value": 88}, {"time": "HD1", "group": "Pre-Atomoxetine", "value": 85}, {"time": "HD1", "group": "Pre-Atomoxetine", "value": 82}, {"time": "HD1", "group": "Pre-Atomoxetine", "value": 80}, {"time": "HD1", "group": "Pre-Atomoxetine", "value": 72}, {"time": "HD1", "group": "Pre-Atomoxetine", "value": 70},
      {"time": "HD1", "group": "Post-Atomoxetine", "value": 107}, {"time": "HD1", "group": "Post-Atomoxetine", "value": 103}, {"time": "HD1", "group": "Post-Atomoxetine", "value": 100}, {"time": "HD1", "group": "Post-Atomoxetine", "value": 97}, {"time": "HD1", "group": "Post-Atomoxetine", "value": 94}, {"time": "HD1", "group": "Post-Atomoxetine", "value": 92}, {"time": "HD1", "group": "Post-Atomoxetine", "value": 88}, {"time": "HD1", "group": "Post-Atomoxetine", "value": 83}, {"time": "HD1", "group": "Post-Atomoxetine", "value": 61},
      {"time": "HD2", "group": "Pre-Atomoxetine", "value": 99}, {"time": "HD2", "group": "Pre-Atomoxetine", "value": 94}, {"time": "HD2", "group": "Pre-Atomoxetine", "value": 92}, {"time": "HD2", "group": "Pre-Atomoxetine", "value": 89}, {"time": "HD2", "group": "Pre-Atomoxetine", "value": 86}, {"time": "HD2", "group": "Pre-Atomoxetine", "value": 83}, {"time": "HD2", "group": "Pre-Atomoxetine", "value": 80}, {"time": "HD2", "group": "Pre-Atomoxetine", "value": 77}, {"time": "HD2", "group": "Pre-Atomoxetine", "value": 74},
      {"time": "HD2", "group": "Post-Atomoxetine", "value": 105}, {"time": "HD2", "group": "Post-Atomoxetine", "value": 98}, {"time": "HD2", "group": "Post-Atomoxetine", "value": 95}, {"time": "HD2", "group": "Post-Atomoxetine", "value": 92}, {"time": "HD2", "group": "Post-Atomoxetine", "value": 90}, {"time": "HD2", "group": "Post-Atomoxetine", "value": 87}, {"time": "HD2", "group": "Post-Atomoxetine", "value": 84}, {"time": "HD2", "group": "Post-Atomoxetine", "value": 80}, {"time": "HD2", "group": "Post-Atomoxetine", "value": 77},
      {"time": "HD3", "group": "Pre-Atomoxetine", "value": 94}, {"time": "HD3", "group": "Pre-Atomoxetine", "value": 92}, {"time": "HD3", "group": "Pre-Atomoxetine", "value": 89}, {"time": "HD3", "group": "Pre-Atomoxetine", "value": 86}, {"time": "HD3", "group": "Pre-Atomoxetine", "value": 84}, {"time": "HD3", "group": "Pre-Atomoxetine", "value": 81}, {"time": "HD3", "group": "Pre-Atomoxetine", "value": 78}, {"time": "HD3", "group": "Pre-Atomoxetine", "value": 76}, {"time": "HD3", "group": "Pre-Atomoxetine", "value": 73}, {"time": "HD3", "group": "Pre-Atomoxetine", "value": 62},
      {"time": "HD3", "group": "Post-Atomoxetine", "value": 98}, {"time": "HD3", "group": "Post-Atomoxetine", "value": 92}, {"time": "HD3", "group": "Post-Atomoxetine", "value": 89}, {"time": "HD3", "group": "Post-Atomoxetine", "value": 86}, {"time": "HD3", "group": "Post-Atomoxetine", "value": 83}, {"time": "HD3", "group": "Post-Atomoxetine", "value": 80}, {"time": "HD3", "group": "Post-Atomoxetine", "value": 77}, {"time": "HD3", "group": "Post-Atomoxetine", "value": 74},
      {"time": "HD4", "group": "Pre-Atomoxetine", "value": 111}, {"time": "HD4", "group": "Pre-Atomoxetine", "value": 95}, {"time": "HD4", "group": "Pre-Atomoxetine", "value": 89}, {"time": "HD4", "group": "Pre-Atomoxetine", "value": 87}, {"time": "HD4", "group": "Pre-Atomoxetine", "value": 84}, {"time": "HD4", "group": "Pre-Atomoxetine", "value": 81}, {"time": "HD4", "group": "Pre-Atomoxetine", "value": 79}, {"time": "HD4", "group": "Pre-Atomoxetine", "value": 76}, {"time": "HD4", "group": "Pre-Atomoxetine", "value": 74}, {"time": "HD4", "group": "Pre-Atomoxetine", "value": 66},
      {"time": "HD4", "group": "Post-Atomoxetine", "value": 98}, {"time": "HD4", "group": "Post-Atomoxetine", "value": 95}, {"time": "HD4", "group": "Post-Atomoxetine", "value": 93}, {"time": "HD4", "group": "Post-Atomoxetine", "value": 90}, {"time": "HD4", "group": "Post-Atomoxetine", "value": 87}, {"time": "HD4", "group": "Post-Atomoxetine", "value": 84}, {"time": "HD4", "group": "Post-Atomoxetine", "value": 81}, {"time": "HD4", "group": "Post-Atomoxetine", "value": 77}, {"time": "HD4", "group": "Post-Atomoxetine", "value": 71},
      {"time": "HD5", "group": "Pre-Atomoxetine", "value": 106}, {"time": "HD5", "group": "Pre-Atomoxetine", "value": 101}, {"time": "HD5", "group": "Pre-Atomoxetine", "value": 98}, {"time": "HD5", "group": "Pre-Atomoxetine", "value": 95}, {"time": "HD5", "group": "Pre-Atomoxetine", "value": 92}, {"time": "HD5", "group": "Pre-Atomoxetine", "value": 89}, {"time": "HD5", "group": "Pre-Atomoxetine", "value": 86}, {"time": "HD5", "group": "Pre-Atomoxetine", "value": 82}, {"time": "HD5", "group": "Pre-Atomoxetine", "value": 78}, {"time": "HD5", "group": "Pre-Atomoxetine", "value": 74}, {"time": "HD5", "group": "Pre-Atomoxetine", "value": 68},
      {"time": "HD5", "group": "Post-Atomoxetine", "value": 115}, {"time": "HD5", "group": "Post-Atomoxetine", "value": 101}, {"time": "HD5", "group": "Post-Atomoxetine", "value": 98}, {"time": "HD5", "group": "Post-Atomoxetine", "value": 95}, {"time": "HD5", "group": "Post-Atomoxetine", "value": 92}, {"time": "HD5", "group": "Post-Atomoxetine", "value": 89}, {"time": "HD5", "group": "Post-Atomoxetine", "value": 86}, {"time": "HD5", "group": "Post-Atomoxetine", "value": 81}, {"time": "HD5", "group": "Post-Atomoxetine", "value": 78}, {"time": "HD5", "group": "Post-Atomoxetine", "value": 68},
      {"time": "HD6", "group": "Pre-Atomoxetine", "value": 107}, {"time": "HD6", "group": "Pre-Atomoxetine", "value": 104}, {"time": "HD6", "group": "Pre-Atomoxetine", "value": 101}, {"time": "HD6", "group": "Pre-Atomoxetine", "value": 98}, {"time": "HD6", "group": "Pre-Atomoxetine", "value": 95}, {"time": "HD6", "group": "Pre-Atomoxetine", "value": 92}, {"time": "HD6", "group": "Pre-Atomoxetine", "value": 89}, {"time": "HD6", "group": "Pre-Atomoxetine", "value": 86}, {"time": "HD6", "group": "Pre-Atomoxetine", "value": 81}, {"time": "HD6", "group": "Pre-Atomoxetine", "value": 77}, {"time": "HD6", "group": "Pre-Atomoxetine", "value": 70},
      {"time": "HD6", "group": "Post-Atomoxetine", "value": 110}, {"time": "HD6", "group": "Post-Atomoxetine", "value": 107}, {"time": "HD6", "group": "Post-Atomoxetine", "value": 102}, {"time": "HD6", "group": "Post-Atomoxetine", "value": 98}, {"time": "HD6", "group": "Post-Atomoxetine", "value": 96}, {"time": "HD6", "group": "Post-Atomoxetine", "value": 93}, {"time": "HD6", "group": "Post-Atomoxetine", "value": 90}, {"time": "HD6", "group": "Post-Atomoxetine", "value": 86}, {"time": "HD6", "group": "Post-Atomoxetine", "value": 82}, {"time": "HD6", "group": "Post-Atomoxetine", "value": 80}, {"time": "HD6", "group": "Post-Atomoxetine", "value": 76}, {"time": "HD6", "group": "Post-Atomoxetine", "value": 68},
      {"time": "Post HD supine", "group": "Pre-Atomoxetine", "value": 97}, {"time": "Post HD supine", "group": "Pre-Atomoxetine", "value": 94}, {"time": "Post HD supine", "group": "Pre-Atomoxetine", "value": 91}, {"time": "Post HD supine", "group": "Pre-Atomoxetine", "value": 88}, {"time": "Post HD supine", "group": "Pre-Atomoxetine", "value": 85}, {"time": "Post HD supine", "group": "Pre-Atomoxetine", "value": 82}, {"time": "Post HD supine", "group": "Pre-Atomoxetine", "value": 79}, {"time": "Post HD supine", "group": "Pre-Atomoxetine", "value": 76}, {"time": "Post HD supine", "group": "Pre-Atomoxetine", "value": 75}, {"time": "Post HD supine", "group": "Pre-Atomoxetine", "value": 58},
      {"time": "Post HD supine", "group": "Post-Atomoxetine", "value": 120}, {"time": "Post HD supine", "group": "Post-Atomoxetine", "value": 110}, {"time": "Post HD supine", "group": "Post-Atomoxetine", "value": 101}, {"time": "Post HD supine", "group": "Post-Atomoxetine", "value": 98}, {"time": "Post HD supine", "group": "Post-Atomoxetine", "value": 95}, {"time": "Post HD supine", "group": "Post-Atomoxetine", "value": 92}, {"time": "Post HD supine", "group": "Post-Atomoxetine", "value": 89}, {"time": "Post HD supine", "group": "Post-Atomoxetine", "value": 86}, {"time": "Post HD supine", "group": "Post-Atomoxetine", "value": 82}, {"time": "Post HD supine", "group": "Post-Atomoxetine", "value": 77},
      {"time": "Post HD sitting", "group": "Pre-Atomoxetine", "value": 117}, {"time": "Post HD sitting", "group": "Pre-Atomoxetine", "value": 113}, {"time": "Post HD sitting", "group": "Pre-Atomoxetine", "value": 110}, {"time": "Post HD sitting", "group": "Pre-Atomoxetine", "value": 106}, {"time": "Post HD sitting", "group": "Pre-Atomoxetine", "value": 102}, {"time": "Post HD sitting", "group": "Pre-Atomoxetine", "value": 98}, {"time": "Post HD sitting", "group": "Pre-Atomoxetine", "value": 94}, {"time": "Post HD sitting", "group": "Pre-Atomoxetine", "value": 91}, {"time": "Post HD sitting", "group": "Pre-Atomoxetine", "value": 87}, {"time": "Post HD sitting", "group": "Pre-Atomoxetine", "value": 84}, {"time": "Post HD sitting", "group": "Pre-Atomoxetine", "value": 70},
      {"time": "Post HD sitting", "group": "Post-Atomoxetine", "value": 120}, {"time": "Post HD sitting", "group": "Post-Atomoxetine", "value": 118}, {"time": "Post HD sitting", "group": "Post-Atomoxetine", "value": 114}, {"time": "Post HD sitting", "group": "Post-Atomoxetine", "value": 111}, {"time": "Post HD sitting", "group": "Post-Atomoxetine", "value": 108}, {"time": "Post HD sitting", "group": "Post-Atomoxetine", "value": 106}, {"time": "Post HD sitting", "group": "Post-Atomoxetine", "value": 102}, {"time": "Post HD sitting", "group": "Post-Atomoxetine", "value": 99}, {"time": "Post HD sitting", "group": "Post-Atomoxetine", "value": 96}, {"time": "Post HD sitting", "group": "Post-Atomoxetine", "value": 81}
    ],
    "hr_stats": [
      {"time": "Pre HD", "group": "Pre-Atomoxetine", "mean": 92.9, "lo": 85.9, "hi": 99.9}, {"time": "Pre HD", "group": "Post-Atomoxetine", "mean": 93.8, "lo": 79.3, "hi": 108.3},
      {"time": "HD1", "group": "Pre-Atomoxetine", "mean": 87.8, "lo": 79.8, "hi": 95.8}, {"time": "HD1", "group": "Post-Atomoxetine", "mean": 93.4, "lo": 82.4, "hi": 104.4},
      {"time": "HD2", "group": "Pre-Atomoxetine", "mean": 85.7, "lo": 78.7, "hi": 92.7}, {"time": "HD2", "group": "Post-Atomoxetine", "mean": 89.4, "lo": 82.4, "hi": 96.4},
      {"time": "HD3", "group": "Pre-Atomoxetine", "mean": 83.4, "lo": 75.9, "hi": 90.9}, {"time": "HD3", "group": "Post-Atomoxetine", "mean": 83.4, "lo": 76.9, "hi": 89.9},
      {"time": "HD4", "group": "Pre-Atomoxetine", "mean": 84.1, "lo": 74.1, "hi": 94.1}, {"time": "HD4", "group": "Post-Atomoxetine", "mean": 85.7, "lo": 78.2, "hi": 93.2},
      {"time": "HD5", "group": "Pre-Atomoxetine", "mean": 88.3, "lo": 78.3, "hi": 98.3}, {"time": "HD5", "group": "Post-Atomoxetine", "mean": 88.3, "lo": 78.3, "hi": 99.3},
      {"time": "HD6", "group": "Pre-Atomoxetine", "mean": 91.6, "lo": 81.1, "hi": 102.1}, {"time": "HD6", "group": "Post-Atomoxetine", "mean": 90.1, "lo": 79.1, "hi": 101.1},
      {"time": "Post HD supine", "group": "Pre-Atomoxetine", "mean": 85.2, "lo": 76.2, "hi": 94.2}, {"time": "Post HD supine", "group": "Post-Atomoxetine", "mean": 95.1, "lo": 84.1, "hi": 106.1},
      {"time": "Post HD sitting", "group": "Pre-Atomoxetine", "mean": 100.4, "lo": 88.9, "hi": 111.9}, {"time": "Post HD sitting", "group": "Post-Atomoxetine", "mean": 104.8, "lo": 95.8, "hi": 113.8}
    ]
  },
  "columns": 1,
  "spacing": 22,
  "resolve": {
    "scale": {"x": "independent", "y": "independent", "xOffset": "independent", "color": "independent"},
    "axis": {"x": "independent", "y": "independent"},
    "legend": {"color": "independent"}
  },
  "concat": [
    {
      "title": {"text": "A", "dx": -11, "offset": -8},
      "width": 355,
      "height": 237,
      "encoding": {
        "x": {"field": "time", "type": "nominal", "title": "Time points",
              "scale": {"domain": ["Pre HD", "HD1", "HD2", "HD3", "HD4", "HD5", "HD6", "Post HD supine", "Post HD sitting"], "paddingInner": 0, "paddingOuter": 0}}
      },
      "layer": [
        {
          "data": {"name": "sbp"},
          "mark": {"type": "circle", "size": 30, "opacity": 1},
          "encoding": {
            "xOffset": {"field": "group", "type": "nominal", "scale": {"domain": ["Pre-Atomoxetine", "Post-Atomoxetine"], "paddingInner": 0, "paddingOuter": 0.3}},
            "y": {"field": "value", "type": "quantitative", "title": "SBP mmHg", "scale": {"domain": [0, 150], "nice": false}, "axis": {"values": [0, 50, 100, 150]}},
            "color": {"field": "group", "type": "nominal", "title": null, "scale": {"domain": ["Pre-Atomoxetine", "Post-Atomoxetine"], "range": ["#0000ff", "#ff0000"]}, "legend": {"orient": "right", "offset": 49}}
          }
        },
        {
          "data": {"name": "sbp_stats"},
          "mark": {"type": "rule", "strokeWidth": 1.3},
          "encoding": {
            "xOffset": {"field": "group", "type": "nominal"},
            "y": {"field": "lo", "type": "quantitative"}, "y2": {"field": "hi"},
            "color": {"field": "group", "type": "nominal"}
          }
        },
        {
          "data": {"name": "sbp_stats"},
          "mark": {"type": "tick", "size": 7, "thickness": 1.3},
          "encoding": {"xOffset": {"field": "group", "type": "nominal"}, "y": {"field": "lo", "type": "quantitative"}, "color": {"field": "group", "type": "nominal"}}
        },
        {
          "data": {"name": "sbp_stats"},
          "mark": {"type": "tick", "size": 7, "thickness": 1.3},
          "encoding": {"xOffset": {"field": "group", "type": "nominal"}, "y": {"field": "hi", "type": "quantitative"}, "color": {"field": "group", "type": "nominal"}}
        },
        {
          "data": {"name": "sbp_stats"},
          "mark": {"type": "tick", "size": 13, "thickness": 2.6, "color": "black"},
          "encoding": {"xOffset": {"field": "group", "type": "nominal"}, "y": {"field": "mean", "type": "quantitative"}}
        },
        {
          "data": {"name": "sbp_legs"},
          "mark": {"type": "rule", "color": "#555555", "strokeWidth": 1.4},
          "encoding": {"xOffset": {"field": "group", "type": "nominal"}, "y": {"field": "bottom", "type": "quantitative"}, "y2": {"field": "top"}}
        },
        {
          "data": {"name": "sbp_bars"},
          "mark": {"type": "tick", "color": "#555555", "size": 16, "thickness": 1.4},
          "encoding": {"y": {"field": "top", "type": "quantitative"}}
        },
        {
          "data": {"name": "sbp_bars"},
          "mark": {"type": "text", "fontSize": 11, "fontWeight": "bold", "baseline": "alphabetic", "color": "black"},
          "encoding": {"y": {"field": "label_y", "type": "quantitative"}, "text": {"field": "stars"}}
        }
      ]
    },
    {
      "title": {"text": "B", "dx": -11, "offset": -4},
      "width": 356,
      "height": 237,
      "encoding": {
        "x": {"field": "time", "type": "nominal", "title": "Time points",
              "scale": {"domain": ["Pre HD", "HD1", "HD2", "HD3", "HD4", "HD5", "HD6", "Post HD supine", "Post HD sitting"], "paddingInner": 0, "paddingOuter": 0}}
      },
      "layer": [
        {
          "data": {"name": "dbp"},
          "mark": {"type": "circle", "size": 30, "opacity": 1},
          "encoding": {
            "xOffset": {"field": "group", "type": "nominal", "scale": {"domain": ["Pre-Atomoxetine", "Post-Atomoxetine"], "paddingInner": 0, "paddingOuter": 0.27}},
            "y": {"field": "value", "type": "quantitative", "title": "DBP mmHg", "scale": {"domain": [0, 80], "nice": false}, "axis": {"values": [0, 20, 40, 60, 80]}},
            "color": {"field": "group", "type": "nominal", "title": null, "scale": {"domain": ["Pre-Atomoxetine", "Post-Atomoxetine"], "range": ["#0000ff", "#ff0000"]}, "legend": {"orient": "right", "offset": 40, "padding": 14}}
          }
        },
        {
          "data": {"name": "dbp_stats"},
          "mark": {"type": "rule", "strokeWidth": 1.3},
          "encoding": {
            "xOffset": {"field": "group", "type": "nominal"},
            "y": {"field": "lo", "type": "quantitative"}, "y2": {"field": "hi"},
            "color": {"field": "group", "type": "nominal"}
          }
        },
        {
          "data": {"name": "dbp_stats"},
          "mark": {"type": "tick", "size": 7, "thickness": 1.3},
          "encoding": {"xOffset": {"field": "group", "type": "nominal"}, "y": {"field": "lo", "type": "quantitative"}, "color": {"field": "group", "type": "nominal"}}
        },
        {
          "data": {"name": "dbp_stats"},
          "mark": {"type": "tick", "size": 7, "thickness": 1.3},
          "encoding": {"xOffset": {"field": "group", "type": "nominal"}, "y": {"field": "hi", "type": "quantitative"}, "color": {"field": "group", "type": "nominal"}}
        },
        {
          "data": {"name": "dbp_stats"},
          "mark": {"type": "tick", "size": 13, "thickness": 2.6, "color": "black"},
          "encoding": {"xOffset": {"field": "group", "type": "nominal"}, "y": {"field": "mean", "type": "quantitative"}}
        },
        {
          "data": {"name": "dbp_legs"},
          "mark": {"type": "rule", "color": "#555555", "strokeWidth": 1.4},
          "encoding": {"xOffset": {"field": "group", "type": "nominal"}, "y": {"field": "bottom", "type": "quantitative"}, "y2": {"field": "top"}}
        },
        {
          "data": {"name": "dbp_bars"},
          "mark": {"type": "tick", "color": "#555555", "size": 16.5, "thickness": 1.4},
          "encoding": {"y": {"field": "top", "type": "quantitative"}}
        },
        {
          "data": {"name": "dbp_bars"},
          "mark": {"type": "text", "fontSize": 11, "fontWeight": "bold", "baseline": "alphabetic", "color": "black"},
          "encoding": {"y": {"field": "label_y", "type": "quantitative"}, "text": {"field": "stars"}}
        }
      ]
    },
    {
      "title": {"text": "C", "dx": -11, "offset": -8},
      "width": 337,
      "height": 226,
      "encoding": {
        "x": {"field": "time", "type": "nominal", "title": "Time points",
              "axis": {"labelFontSize": 18, "titlePadding": 6},
              "scale": {"domain": ["Pre HD", "HD1", "HD2", "HD3", "HD4", "HD5", "HD6", "Post HD supine", "Post HD sitting"], "paddingInner": 0, "paddingOuter": 0}}
      },
      "layer": [
        {
          "data": {"name": "hr"},
          "mark": {"type": "circle", "size": 30, "opacity": 1},
          "encoding": {
            "xOffset": {"field": "group", "type": "nominal", "scale": {"domain": ["Pre-Atomoxetine", "Post-Atomoxetine"], "paddingInner": 0, "paddingOuter": 0.25}},
            "y": {"field": "value", "type": "quantitative", "title": "HR /min", "scale": {"domain": [0, 150], "nice": false}, "axis": {"values": [0, 50, 100, 150]}},
            "color": {"field": "group", "type": "nominal", "title": null, "scale": {"domain": ["Pre-Atomoxetine", "Post-Atomoxetine"], "range": ["#0000ff", "#ff0000"]}, "legend": {"orient": "right", "offset": 67}}
          }
        },
        {
          "data": {"name": "hr_stats"},
          "mark": {"type": "rule", "strokeWidth": 1.3},
          "encoding": {
            "xOffset": {"field": "group", "type": "nominal"},
            "y": {"field": "lo", "type": "quantitative"}, "y2": {"field": "hi"},
            "color": {"field": "group", "type": "nominal"}
          }
        },
        {
          "data": {"name": "hr_stats"},
          "mark": {"type": "tick", "size": 7, "thickness": 1.3},
          "encoding": {"xOffset": {"field": "group", "type": "nominal"}, "y": {"field": "lo", "type": "quantitative"}, "color": {"field": "group", "type": "nominal"}}
        },
        {
          "data": {"name": "hr_stats"},
          "mark": {"type": "tick", "size": 7, "thickness": 1.3},
          "encoding": {"xOffset": {"field": "group", "type": "nominal"}, "y": {"field": "hi", "type": "quantitative"}, "color": {"field": "group", "type": "nominal"}}
        },
        {
          "data": {"name": "hr_stats"},
          "mark": {"type": "tick", "size": 13, "thickness": 2.6, "color": "black"},
          "encoding": {"xOffset": {"field": "group", "type": "nominal"}, "y": {"field": "mean", "type": "quantitative"}}
        }
      ]
    }
  ]
}
